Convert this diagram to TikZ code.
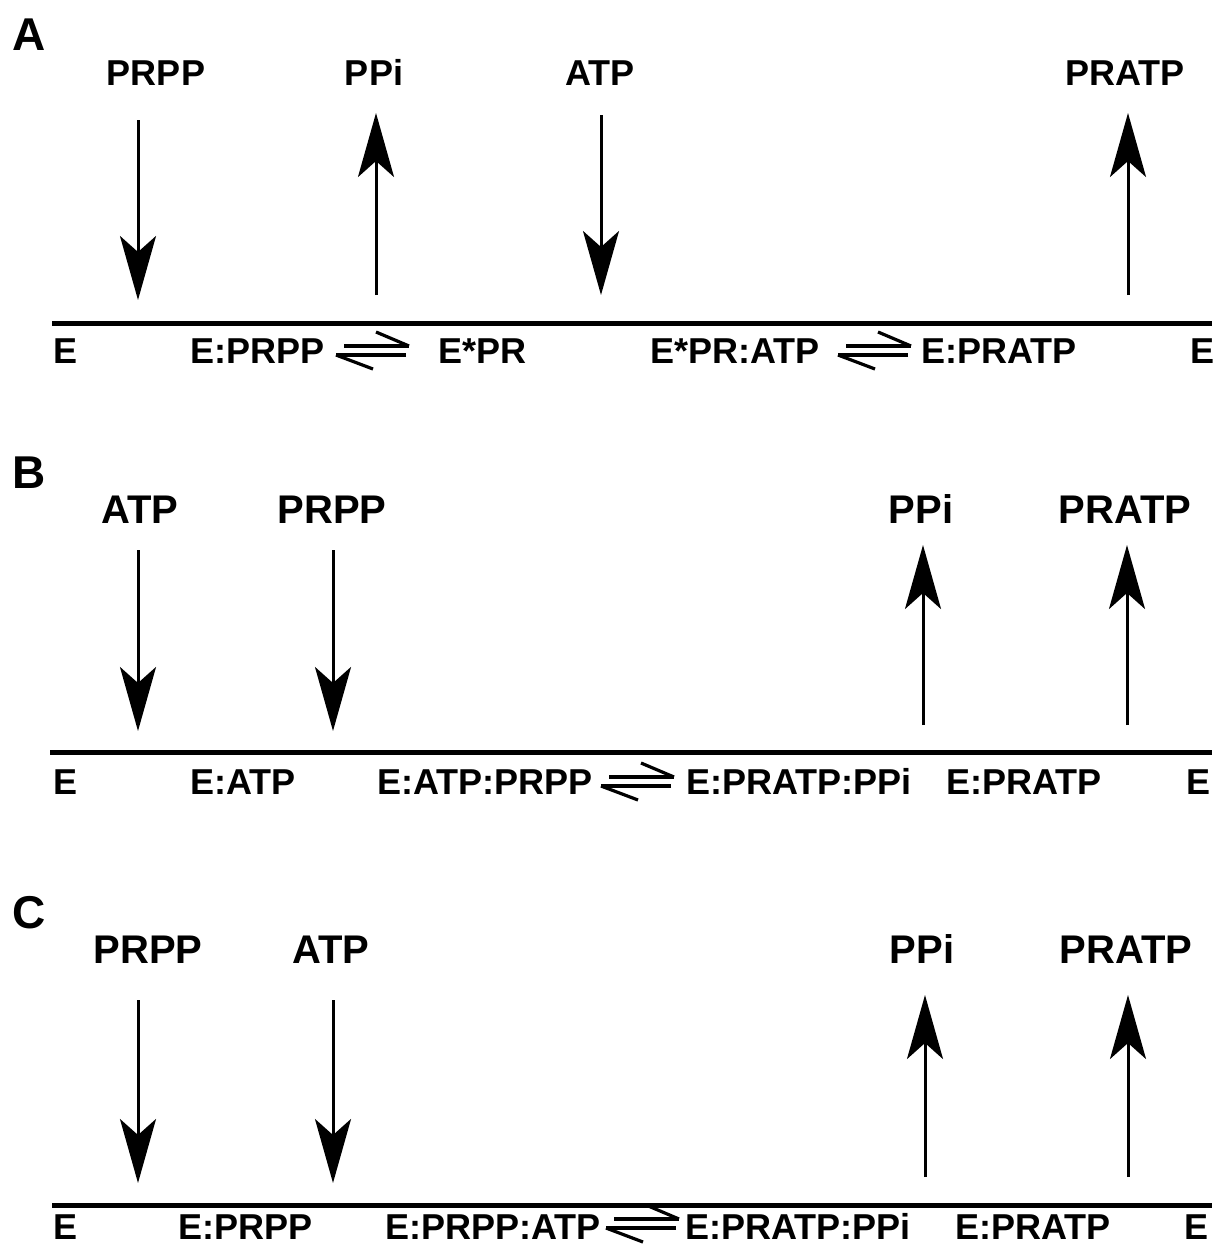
\documentclass[tikz,border=0pt]{standalone}
\usepackage{fontspec}
\setmainfont{Liberation Sans}
\usetikzlibrary{arrows.meta}

\begin{document}
\begin{tikzpicture}[x=1pt,y=-1pt,
  panel/.style={anchor=base west,inner sep=0pt,font=\bfseries\fontsize{46}{46}\selectfont},
  subsA/.style={anchor=base,inner sep=0pt,font=\bfseries\fontsize{36}{36}\selectfont},
  subsBC/.style={anchor=base,inner sep=0pt,font=\bfseries\fontsize{40}{40}\selectfont},
  species/.style={anchor=base west,inner sep=0pt,font=\bfseries\fontsize{36}{36}\selectfont},
  track/.style={line width=5pt},
  flux/.style={line width=3pt,-{Stealth[length=64pt,width=36pt,inset=16pt]}},
  eqarrow/.pic={
    \draw[line width=3.2pt] (8,-17) -- (73,-17);
    \draw[line width=3.2pt] (73,-17) -- (40,-31);
    \draw[line width=3.2pt] (70,-8) -- (0,-8);
    \draw[line width=3.2pt] (0,-8) -- (37,6);
  }]
\useasboundingbox (0,0) rectangle (1214,1245);

% ---------------- Panel A: ordered, PRPP first ----------------
\node[panel] (pA) at (12,50) {A};
\node[subsA] (a1) at (156,85) {PRPP};
\node[subsA] (a2) at (374,85) {PPi};
\node[subsA] (a3) at (600,85) {ATP};
\node[subsA] (a4) at (1125,85) {PRATP};
\coordinate (a1s) at (138,120);  \coordinate (a1e) at (138,300);
\coordinate (a2s) at (376,295);  \coordinate (a2e) at (376,113);
\coordinate (a3s) at (601,115);  \coordinate (a3e) at (601,295);
\coordinate (a4s) at (1128,295); \coordinate (a4e) at (1128,113);
\draw[flux] (a1s) -- (a1e);
\draw[flux] (a2s) -- (a2e);
\draw[flux] (a3s) -- (a3e);
\draw[flux] (a4s) -- (a4e);
\coordinate (lA0) at (52,323); \coordinate (lA1) at (1212,323);
\draw[track] (lA0) -- (lA1);
\node[species] (ae1) at (53,363) {E};
\node[species] (ae2) at (190,363) {E:PRPP};
\pic at (336,363) {eqarrow};
\node[species] (ae3) at (438,363) {E*PR};
\node[species] (ae4) at (650,363) {E*PR:ATP};
\pic at (838,363) {eqarrow};
\node[species] (ae5) at (921,363) {E:PRATP};
\node[species] (ae6) at (1190,363) {E};

% ---------------- Panel B: ATP first ----------------
\node[panel] (pB) at (12,488) {B};
\node[subsBC] (b1) at (140,523) {ATP};
\node[subsBC] (b2) at (332,523) {PRPP};
\node[subsBC] (b3) at (921,523) {PPi};
\node[subsBC] (b4) at (1125,523) {PRATP};
\coordinate (b1s) at (138,550);  \coordinate (b1e) at (138,731);
\coordinate (b2s) at (333,550);  \coordinate (b2e) at (333,731);
\coordinate (b3s) at (923,725);  \coordinate (b3e) at (923,545);
\coordinate (b4s) at (1127,725); \coordinate (b4e) at (1127,545);
\draw[flux] (b1s) -- (b1e);
\draw[flux] (b2s) -- (b2e);
\draw[flux] (b3s) -- (b3e);
\draw[flux] (b4s) -- (b4e);
\coordinate (lB0) at (50,752); \coordinate (lB1) at (1212,752);
\draw[track] (lB0) -- (lB1);
\node[species] (be1) at (53,794) {E};
\node[species] (be2) at (190,794) {E:ATP};
\node[species] (be3) at (377,794) {E:ATP:PRPP};
\pic at (601,794) {eqarrow};
\node[species] (be4) at (686,794) {E:PRATP:PPi};
\node[species] (be5) at (946,794) {E:PRATP};
\node[species] (be6) at (1186,794) {E};

% ---------------- Panel C: PRPP then ATP ----------------
\node[panel] (pC) at (12,928) {C};
\node[subsBC] (c1) at (148,963) {PRPP};
\node[subsBC] (c2) at (331,963) {ATP};
\node[subsBC] (c3) at (922,963) {PPi};
\node[subsBC] (c4) at (1126,963) {PRATP};
\coordinate (c1s) at (138,1000);  \coordinate (c1e) at (138,1183);
\coordinate (c2s) at (333,1000);  \coordinate (c2e) at (333,1183);
\coordinate (c3s) at (925,1177);  \coordinate (c3e) at (925,995);
\coordinate (c4s) at (1128,1177); \coordinate (c4e) at (1128,995);
\draw[flux] (c1s) -- (c1e);
\draw[flux] (c2s) -- (c2e);
\draw[flux] (c3s) -- (c3e);
\draw[flux] (c4s) -- (c4e);
\coordinate (lC0) at (52,1205); \coordinate (lC1) at (1212,1205);
\draw[track] (lC0) -- (lC1);
\node[species] (ce1) at (53,1239) {E};
\node[species] (ce2) at (178,1239) {E:PRPP};
\node[species] (ce3) at (385,1239) {E:PRPP:ATP};
\pic at (606,1236) {eqarrow};
\node[species] (ce4) at (685,1239) {E:PRATP:PPi};
\node[species] (ce5) at (955,1239) {E:PRATP};
\node[species] (ce6) at (1184,1239) {E};
\end{tikzpicture}
\end{document}
